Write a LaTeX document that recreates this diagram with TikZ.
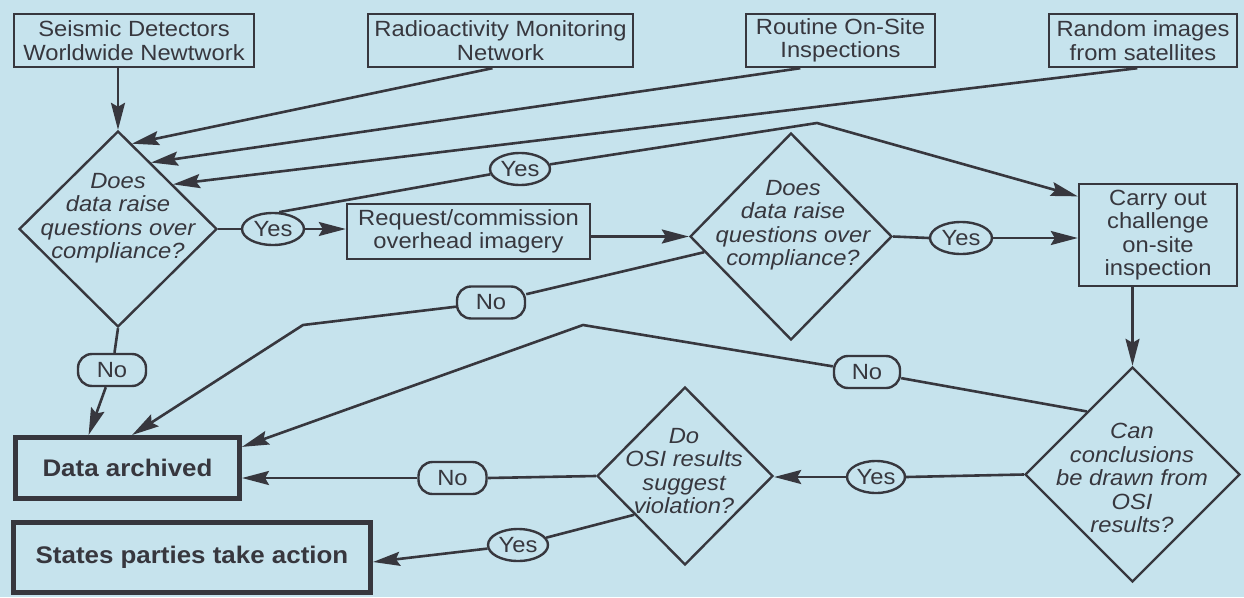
\documentclass[tikz,border=0pt]{standalone}
\usepackage{fontspec}
\setmainfont{Liberation Sans}[FakeStretch=1.08]
\usetikzlibrary{shapes.geometric,arrows.meta,calc}
\definecolor{bg}{RGB}{198,227,237}
\definecolor{ink}{RGB}{55,55,62}
\begin{document}
\begin{tikzpicture}[x=1pt,y=-1pt,
  every node/.style={text=ink, font=\fontsize{22}{23.5}\selectfont},
  box/.style={draw=ink, line width=2.4pt, rectangle, align=center, inner sep=0pt},
  dia/.style={draw=ink, line width=2.4pt, diamond, inner sep=0pt},
  dtext/.style={align=center, font=\fontsize{22}{23.5}\selectfont\itshape, inner sep=0pt},
  yes/.style={draw=ink, line width=2.4pt, ellipse, minimum width=62pt, minimum height=32pt, inner sep=0pt},
  no/.style={draw=ink, line width=2.4pt, rounded corners=14pt, minimum width=68pt, minimum height=32pt, inner sep=0pt},
  thickbox/.style={draw=ink, line width=5pt, inner sep=0pt, font=\fontsize{24}{26}\selectfont\bfseries},
  ln/.style={draw=ink, line width=2.6pt, line join=round},
  arr/.style={ln, -{Stealth[length=27pt,width=14pt,inset=4pt]}},
]
\fill[bg] (0,0) rectangle (1244,597);
\useasboundingbox (0,0) rectangle (1244,597);

\node[box, minimum width=240pt, minimum height=53pt] (b1) at (134,40.5) {Seismic Detectors\\Worldwide Newtwork};
\node[box, minimum width=265pt, minimum height=53pt] (b2) at (500.5,40.5) {Radioactivity Monitoring\\Network};
\node[box, minimum width=189pt, minimum height=53pt] (b3) at (840.5,40.5) {Routine On-Site\\Inspections};
\node[box, minimum width=188pt, minimum height=53pt] (b4) at (1143,40.5) {Random images\\from satellites};

\node[dia, minimum width=198pt, minimum height=196pt] (d1) at (118,229) {};
\node[dtext] (d1t) at (118,218) {Does\\data raise\\questions over\\compliance?};
\node[yes] (y1) at (273,229) {Yes};
\node[box, minimum width=243pt, minimum height=55pt] (req) at (468.5,231.5) {Request/commission\\overhead imagery};
\node[yes, minimum width=60pt] (yu) at (520,169) {Yes};
\coordinate (pk) at (817,123);
\node[dia, minimum width=202pt, minimum height=207pt] (d2) at (791,236.5) {};
\node[dtext] (d2t) at (793,225) {Does\\data raise\\questions over\\compliance?};
\node[yes] (y2) at (961,238) {Yes};
\node[box, minimum width=158pt, minimum height=102pt] (co) at (1158,235) {Carry out\\challenge\\on-site\\inspection};
\node[dia, minimum width=215pt, minimum height=215pt] (d3) at (1132.5,474.5) {};
\node[dtext] (d3t) at (1132,478) {Can\\conclusions\\be drawn from\\OSI\\results?};
\node[yes, minimum width=58pt] (y3) at (876,477) {Yes};
\node[dia, minimum width=176pt, minimum height=178pt] (d4) at (685,476) {};
\node[dtext] (d4t) at (684,471) {Do\\OSI results\\suggest\\violation?};
\node[no] (n4) at (452.5,478) {No};
\node[yes, minimum width=60pt] (y4) at (518,545) {Yes};
\node[thickbox, minimum width=224pt, minimum height=61pt] (da) at (127.5,468) {Data archived};
\node[thickbox, minimum width=357pt, minimum height=70pt] (sp) at (192,557.5) {States parties take action};
\node[no] (n1) at (112,370) {No};
\node[no] (n2) at (491,302.5) {No};
\node[no, minimum width=66pt] (n3) at (867,372) {No};
\coordinate (bend2) at (303,325);
\coordinate (pk3) at (583,325);

\draw[arr] (b1.south -| d1.north) -- (d1.north);
\draw[arr] ($(b2.south west)!0.47!(b2.south east)$) -- ($(d1.north)!0.14!(d1.east)$);
\draw[arr] ($(b3.south west)!0.29!(b3.south east)$) -- ($(d1.north)!0.33!(d1.east)$);
\draw[arr] ($(b4.south west)!0.47!(b4.south east)$) -- ($(d1.north)!0.55!(d1.east)$);

\draw[ln] (d1.east) -- (y1.west);
\draw[arr] (y1.east) -- (y1.east -| req.west);
\draw[ln] (y1.70) -- (yu);
\draw[arr] (yu) -- (pk) -- ($(co.north west)!0.13!(co.south west)$);
\draw[arr] (req.east |- d2.west) -- (d2.west);
\draw[ln] (d2.east) -- (y2.west);
\draw[arr] (y2.east) -- (y2.east -| co.west);
\draw[ln] ($(d2.west)!0.15!(d2.south)$) -- (n2);
\draw[arr] (n2) -- (bend2) -- ($(da.north west)!0.52!(da.north east)$);
\draw[arr] (co.south -| d3.north) -- (d3.north);
\draw[ln] ($(d3.north)!0.42!(d3.west)$) -- (n3);
\draw[arr] (n3) -- (pk3) -- ($(da.north east)!0.18!(da.south east)$);
\draw[ln] (d3.west) -- (y3.east);
\draw[arr] (y3.west) -- (y3.west -| d4.east);
\draw[ln] (d4.west) -- (n4.east);
\draw[arr] (n4.west) -- (n4.west -| da.east);
\draw[ln] ($(d4.west)!0.43!(d4.south)$) -- (y4);
\draw[arr] (y4) -- ($(sp.north east)!0.56!(sp.south east)$);
\draw[ln] (d1.south) -- (n1);
\draw[arr] (n1) -- ($(da.north west)!0.33!(da.north east)$);
\end{tikzpicture}
\end{document}
